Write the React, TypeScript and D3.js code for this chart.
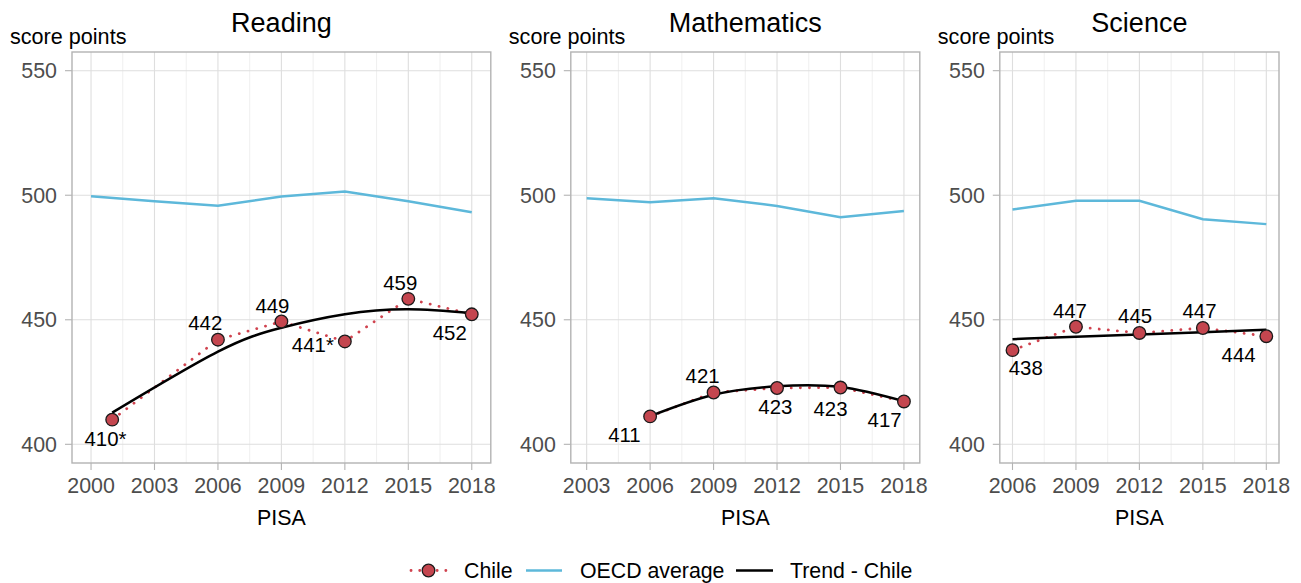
import React from "react";
import * as d3 from "d3";

// ---------- Data ----------
const subjects = ["Reading", "Mathematics", "Science"];

const readingYears = [2001, 2006, 2009, 2012, 2015, 2018];
const readingChile = [409.9, 442, 449.3, 441.3, 458.4, 452.2];
const readingLabels = ["410*", "442", "449", "441*", "459", "452"];
const readingTrend = [412.7, 437.2, 446.8, 452.2, 454.2, 452.6];
const readingOecdYears = [2000, 2003, 2006, 2009, 2012, 2015, 2018];
const readingOecd = [499.6, 497.6, 495.8, 499.5, 501.5, 497.6, 493.2];
const readingTicks = [2000, 2003, 2006, 2009, 2012, 2015, 2018];

const mathYears = [2006, 2009, 2012, 2015, 2018];
const mathChile = [411.2, 420.8, 422.6, 422.8, 417.2];
const mathLabels = ["411", "421", "423", "423", "417"];
const mathTrend = [411.3, 419.9, 423.3, 423.0, 417.3];
const mathOecdYears = [2003, 2006, 2009, 2012, 2015, 2018];
const mathOecd = [498.8, 497.2, 498.8, 495.7, 491.2, 493.7];
const mathTicks = [2003, 2006, 2009, 2012, 2015, 2018];

const scienceYears = [2006, 2009, 2012, 2015, 2018];
const scienceChile = [437.8, 447.2, 444.7, 446.7, 443.4];
const scienceLabels = ["438", "447", "445", "447", "444"];
const scienceTrend = [442.2, 443.2, 444.1, 445.0, 446.0];
const scienceOecdYears = [2006, 2009, 2012, 2015, 2018];
const scienceOecd = [494.3, 497.8, 497.8, 490.4, 488.4];
const scienceTicks = [2006, 2009, 2012, 2015, 2018];

const yTicks = [400, 450, 500, 550];
const legendItems = ["Chile", "OECD average", "Trend - Chile"];

// ---------- Layout / style (not data) ----------
const W = 1301;
const H = 583;
const TOP = 52;
const BOTTOM = 463;
const PLOT_LEFT = 72;
const PLOT_RIGHT = 1279;
const GAP = 80;
const FONT = "'Liberation Sans', Arial, Helvetica, sans-serif";
const RED = "#C4464F";
const DOT_RED = "#D0434F";
const BLUE = "#5DB8DA";
const GRID = "#DEDEDE";
const GRID_MINOR = "#E8E8E8";
const BORDER = "#B3B3B3";
const TICK_TEXT = "#4D4D4D";

// label offsets (px) relative to each point, center of text
const readingLabelOffsets = [[-6.7, 19], [-12.7, -16.7], [-9, -15.7], [-32, 3.7], [-8, -15.7], [-22, 19]];
const mathLabelOffsets = [[-25.7, 18.3], [-11, -16.7], [-1.7, 19.3], [-10, 21.7], [-19.3, 18.3]];
const scienceLabelOffsets = [[13.3, 18], [-6, -16], [-4.3, -16.5], [-3.3, -17], [-27.7, 18.6]];

type Panel = {
  title: string;
  years: number[];
  chile: number[];
  labels: string[];
  trend: number[];
  oecdYears: number[];
  oecd: number[];
  ticks: number[];
  offsets: number[][];
};

const panels: Panel[] = [
  { title: subjects[0], years: readingYears, chile: readingChile, labels: readingLabels, trend: readingTrend, oecdYears: readingOecdYears, oecd: readingOecd, ticks: readingTicks, offsets: readingLabelOffsets },
  { title: subjects[1], years: mathYears, chile: mathChile, labels: mathLabels, trend: mathTrend, oecdYears: mathOecdYears, oecd: mathOecd, ticks: mathTicks, offsets: mathLabelOffsets },
  { title: subjects[2], years: scienceYears, chile: scienceChile, labels: scienceLabels, trend: scienceTrend, oecdYears: scienceOecdYears, oecd: scienceOecd, ticks: scienceTicks, offsets: scienceLabelOffsets },
];

function expand(lo: number, hi: number, f = 0.05): [number, number] {
  const d = (hi - lo) * f;
  return [lo - d, hi + d];
}

export default function App() {
  const yDomain = expand(400, 550);
  const y = d3.scaleLinear().domain(yDomain).range([BOTTOM, TOP]);

  // free x space: width proportional to domain span
  const spans = panels.map((p) => {
    const [a, b] = expand(p.ticks[0], p.ticks[p.ticks.length - 1]);
    return b - a;
  });
  const totalSpan = d3.sum(spans);
  const unit = (PLOT_RIGHT - PLOT_LEFT - GAP * (panels.length - 1)) / totalSpan;
  let cursor = PLOT_LEFT;
  const layouts = panels.map((p, i) => {
    const left = cursor;
    const width = spans[i] * unit;
    cursor += width + GAP;
    const x = d3
      .scaleLinear()
      .domain(expand(p.ticks[0], p.ticks[p.ticks.length - 1]))
      .range([left, left + width]);
    return { p, left, right: left + width, x };
  });

  return (
    <svg
      width={W}
      height={H}
      style={{ position: "absolute", left: 0, top: 0, background: "#fff" }}
      fontFamily={FONT}
    >
      <rect x={0} y={0} width={W} height={H} fill="#fff" />
      {layouts.map(({ p, left, right, x }, pi) => {
        const minor = p.ticks.slice(0, -1).map((t, i) => (t + p.ticks[i + 1]) / 2);
        const oecdLine = d3
          .line<number>()
          .x((_, i) => x(p.oecdYears[i]))
          .y((v) => y(v));
        const chileLine = d3
          .line<number>()
          .x((_, i) => x(p.years[i]))
          .y((v) => y(v));
        const trendLine = d3
          .line<number>()
          .x((_, i) => x(p.years[i]))
          .y((v) => y(v))
          .curve(d3.curveNatural);
        const cx = (left + right) / 2;
        return (
          <g key={pi}>
            {/* title */}
            <text x={cx} y={32} textAnchor="middle" fontSize={27} fill="#000">
              {p.title}
            </text>
            <text x={left - 62} y={44} fontSize={21.6} fill="#000">
              score points
            </text>
            {/* grid */}
            {minor.map((t) => (
              <line key={"mn" + t} x1={x(t)} x2={x(t)} y1={TOP} y2={BOTTOM} stroke={GRID_MINOR} strokeWidth={0.7} />
            ))}
            {p.ticks.map((t) => (
              <line key={"mj" + t} x1={x(t)} x2={x(t)} y1={TOP} y2={BOTTOM} stroke={GRID} strokeWidth={1.1} />
            ))}
            {yTicks.map((t) => (
              <line key={"y" + t} x1={left} x2={right} y1={y(t)} y2={y(t)} stroke={GRID} strokeWidth={1.1} />
            ))}
            {/* border */}
            <rect x={left} y={TOP} width={right - left} height={BOTTOM - TOP} fill="none" stroke={BORDER} strokeWidth={1.4} />
            {/* y ticks */}
            {yTicks.map((t) => (
              <g key={"yt" + t}>
                <line x1={left - 7} x2={left} y1={y(t)} y2={y(t)} stroke={BORDER} strokeWidth={1.1} />
                <text x={left - 15} y={y(t) + 7.5} textAnchor="end" fontSize={21.4} fill={TICK_TEXT}>
                  {t}
                </text>
              </g>
            ))}
            {/* x ticks */}
            {p.ticks.map((t) => (
              <g key={"xt" + t}>
                <line x1={x(t)} x2={x(t)} y1={BOTTOM} y2={BOTTOM + 7} stroke={BORDER} strokeWidth={1.1} />
                <text x={x(t)} y={493} textAnchor="middle" fontSize={21.4} fill={TICK_TEXT}>
                  {t}
                </text>
              </g>
            ))}
            <text x={cx} y={525} textAnchor="middle" fontSize={21.4} fill="#000">
              PISA
            </text>
            {/* OECD */}
            <path d={oecdLine(p.oecd) || ""} fill="none" stroke={BLUE} strokeWidth={2.5} />
            {/* Chile dotted */}
            <path
              d={chileLine(p.chile) || ""}
              fill="none"
              stroke={DOT_RED}
              strokeWidth={2.8}
              strokeDasharray="0.1 9"
              strokeLinecap="round"
            />
            {/* trend */}
            <path d={trendLine(p.trend) || ""} fill="none" stroke="#000" strokeWidth={2.5} />
            {/* points */}
            {p.chile.map((v, i) => (
              <circle key={"pt" + i} cx={x(p.years[i])} cy={y(v)} r={6.3} fill={RED} stroke="#1a1a1a" strokeWidth={1.3} />
            ))}
            {/* labels */}
            {p.labels.map((lab, i) => (
              <text
                key={"lb" + i}
                x={x(p.years[i]) + p.offsets[i][0]}
                y={y(p.chile[i]) + p.offsets[i][1] + 7}
                textAnchor="middle"
                fontSize={20.4}
                fill="#000"
              >
                {lab}
              </text>
            ))}
          </g>
        );
      })}
      {/* legend */}
      <g>
        <line x1={411} x2={446} y1={570.5} y2={570.5} stroke={DOT_RED} strokeWidth={2.8} strokeDasharray="0.1 8.6" strokeLinecap="round" />
        <circle cx={428.5} cy={570.5} r={6.3} fill={RED} stroke="#1a1a1a" strokeWidth={1.3} />
        <text x={464} y={578} fontSize={21.3} fill="#000">{legendItems[0]}</text>
        <line x1={526} x2={562} y1={570.5} y2={570.5} stroke={BLUE} strokeWidth={2.5} />
        <text x={580} y={578} fontSize={21.3} fill="#000">{legendItems[1]}</text>
        <line x1={736} x2={773} y1={570.5} y2={570.5} stroke="#000" strokeWidth={2.5} />
        <text x={790} y={578} fontSize={21.3} fill="#000">{legendItems[2]}</text>
      </g>
    </svg>
  );
}
